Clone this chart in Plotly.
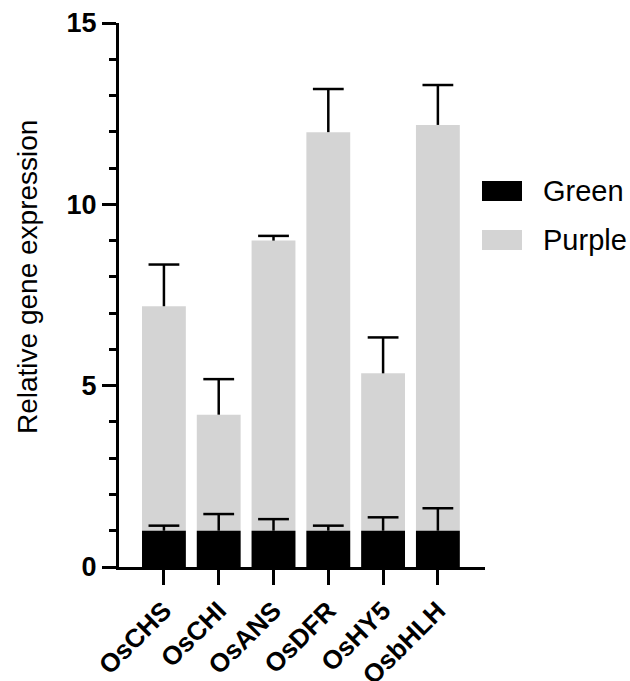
import plotly.graph_objects as go

# ---- data ----
genes = ["OsCHS", "OsCHI", "OsANS", "OsDFR", "OsHY5", "OsbHLH"]
green_vals = [1.0, 1.0, 1.0, 1.0, 1.0, 1.0]
green_err = [0.14, 0.46, 0.32, 0.14, 0.37, 0.62]
purple_vals = [7.19, 4.20, 9.00, 11.99, 5.34, 12.19]
purple_err = [1.15, 0.98, 0.13, 1.19, 0.99, 1.10]
series_names = ["Green", "Purple"]
y_ticks = [0, 5, 10, 15]

GREEN_COLOR = "#000000"
PURPLE_COLOR = "#d4d4d4"
FONT = "Liberation Sans, Arial, Helvetica, sans-serif"

W, H = 630, 681
L, R, T, B = 119, 145, 23, 114

fig = go.Figure()


def add_series(name, vals, errs, color):
    fig.add_trace(go.Bar(
        x=genes, y=vals, name=name, marker=dict(color=color, line=dict(width=0)),
        error_y=dict(type="data", symmetric=False, array=errs,
                     arrayminus=[0] * len(errs), width=0, thickness=2.5,
                     color="black"),
        showlegend=False,
    ))
    fig.add_trace(go.Scatter(
        x=genes, y=[v + e for v, e in zip(vals, errs)], mode="markers",
        marker=dict(symbol="line-ew", size=22,
                    line=dict(width=2.5, color="black")),
        showlegend=False, hoverinfo="skip",
    ))


add_series(series_names[1], purple_vals, purple_err, PURPLE_COLOR)
add_series(series_names[0], green_vals, green_err, GREEN_COLOR)

# ---- legend drawn as shapes + text ----
pw = W - L - R
ph = H - T - B


def px_x(px):
    return (px - L) / pw


def px_y(py):
    return (H - B - py) / ph


legend_items = [(series_names[0], GREEN_COLOR, 191), (series_names[1], PURPLE_COLOR, 240)]
for name, col, cy in legend_items:
    fig.add_shape(type="rect", xref="paper", yref="paper",
                  x0=px_x(482), x1=px_x(522), y0=px_y(cy + 10), y1=px_y(cy - 10),
                  fillcolor=col, line=dict(width=0))
    fig.add_annotation(x=px_x(541), y=px_y(cy), xref="paper", yref="paper",
                       text=name, showarrow=False, xanchor="left", yanchor="middle",
                       font=dict(family=FONT, size=29, color="black"))

# y-axis title
fig.add_annotation(x=px_x(27), y=px_y(277), xref="paper", yref="paper",
                   text="Relative gene expression", textangle=-90, showarrow=False,
                   xanchor="center", yanchor="middle",
                   font=dict(family=FONT, size=28, color="black"))

fig.update_layout(
    width=W, height=H,
    margin=dict(l=L, r=R, t=T, b=B, pad=0, autoexpand=False),
    barmode="overlay", bargap=0.2,
    plot_bgcolor="white", paper_bgcolor="white",
    xaxis=dict(
        type="category", range=[-0.82, 5.86], automargin=False,
        showline=True, linecolor="black", linewidth=3,
        ticks="outside", ticklen=15, tickwidth=3, tickcolor="black",
        tickangle=-45, showgrid=False, zeroline=False,
        tickfont=dict(family=FONT, size=26, color="black", weight="bold"),
    ),
    yaxis=dict(
        range=[0, 15], tickvals=y_ticks, automargin=False,
        showline=True, linecolor="black", linewidth=3,
        ticks="outside", ticklen=14, tickwidth=3, tickcolor="black",
        showgrid=False, zeroline=False,
        tickfont=dict(family=FONT, size=27, color="black", weight="bold"),
        minor=dict(dtick=1, ticks="outside", ticklen=7, tickwidth=3,
                   tickcolor="black", showgrid=False),
    ),
)

fig.write_html("out.html", config={"displayModeBar": False},
               post_script="document.body.style.margin='0';"
                           "document.body.style.overflow='hidden';")
